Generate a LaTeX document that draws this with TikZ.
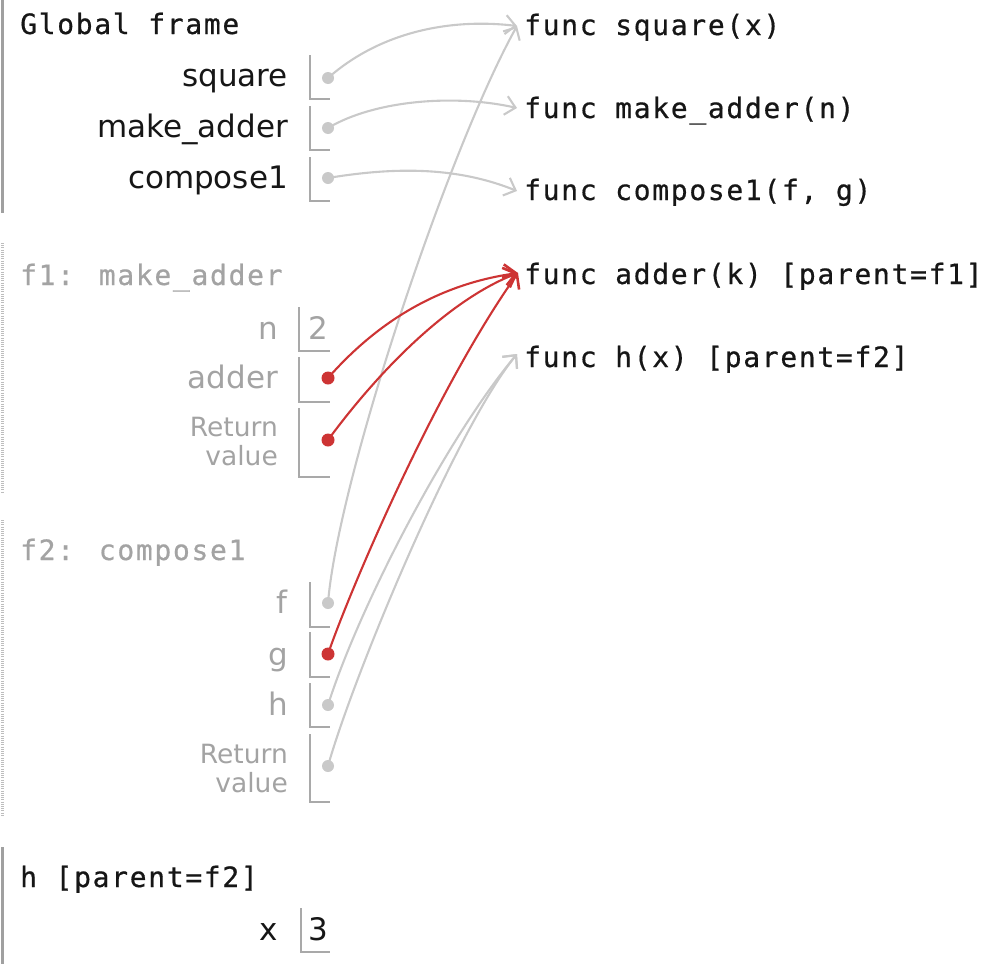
\documentclass[tikz,border=0pt]{standalone}
\usepackage{fontspec}
\setmainfont{DejaVu Sans}
\newfontfamily\monofnt[LetterSpace=6,FakeBold=0.6]{DejaVu Sans Mono}
\usetikzlibrary{arrows.meta}

\definecolor{ink}{HTML}{161616}
\definecolor{dim}{HTML}{A3A3A3}
\definecolor{rulegray}{HTML}{A9A9A9}
\definecolor{wire}{HTML}{C9C9C9}
\definecolor{hot}{HTML}{CD3434}
\definecolor{barcol}{HTML}{A0A0A0}

\tikzset{
  hdr/.style={anchor=base west, inner sep=0pt, font=\monofnt\fontsize{28}{32}\selectfont},
  var/.style={anchor=base east, inner sep=0pt, font=\fontsize{31}{36}\selectfont},
  retlbl/.style={anchor=base east, inner sep=0pt, font=\fontsize{26.5}{30}\selectfont},
  val/.style={anchor=base west, inner sep=0pt, font=\fontsize{31}{36}\selectfont},
  slotline/.style={draw=rulegray, line width=1.6pt},
  ptrdot/.style={circle, fill=wire, inner sep=0pt, minimum size=12pt},
  hotdot/.style={circle, fill=hot, inner sep=0pt, minimum size=13pt},
  ptr/.style={draw=wire, line width=2.1pt, -{Straight Barb[length=10pt,width=19pt,line width=2.1pt]}},
  hotptr/.style={draw=hot, line width=2.1pt, -{Straight Barb[length=11pt,width=21pt,line width=2.6pt]}},
  solidbar/.style={draw=barcol, line width=3pt},
  dotbar/.style={draw=barcol!70, line width=3pt, dash pattern=on 1pt off 1.2pt},
}

\begin{document}
\begin{tikzpicture}[x=1pt,y=-1pt]
\useasboundingbox (0,0) rectangle (1004,964);

% ---------- frame side bars ----------
\draw[solidbar] (2.5,0) -- (2.5,213);
\draw[dotbar]   (2.5,243) -- (2.5,492);
\draw[dotbar]   (2.5,520) -- (2.5,815);
\draw[solidbar] (2.5,847) -- (2.5,964);

% ---------- function objects ----------
\node[hdr, text=ink] (fsq)  at (524,35)  {func square(x)};
\node[hdr, text=ink] (fmk)  at (524,118) {func make\_adder(n)};
\node[hdr, text=ink] (fcmp) at (524,200) {func compose1(f, g)};
\node[hdr, text=ink] (fadd) at (524,284) {func adder(k) [parent=f1]};
\node[hdr, text=ink] (fh)   at (524,367) {func h(x) [parent=f2]};

\coordinate (tsq)  at (517,26);
\coordinate (tmk)  at (517,108);
\coordinate (tcmp) at (517,191);
\coordinate (tadd) at (518,273);
\coordinate (th)   at (517,354);

% ---------- global frame ----------
\node[hdr, text=ink] (gtitle) at (20,34) {Global frame};
\node[var, text=ink] (lsq)  at (288,86)  {square};
\node[var, text=ink] (lmk)  at (288,137) {make\_adder};
\node[var, text=ink] (lcmp) at (288,188) {compose1};
\draw[slotline] (310,55)  |- (330,99);
\draw[slotline] (310,106) |- (330,150);
\draw[slotline] (310,157) |- (330,201);
\node[ptrdot] (dsq)  at (328,78)  {};
\node[ptrdot] (dmk)  at (328,128) {};
\node[ptrdot] (dcmp) at (328,178) {};

% ---------- f1: make_adder ----------
\node[hdr, text=dim] (f1title) at (20,285) {f1: make\_adder};
\node[var, text=dim] (ln)   at (278,339) {n};
\node[val, text=dim] (vn)   at (308,339) {2};
\node[var, text=dim] (ladd) at (278,388) {adder};
\node[retlbl, text=dim] (lret1a) at (278,436) {Return};
\node[retlbl, text=dim] (lret1b) at (278,465) {value};
\draw[slotline] (299,307) |- (330,351);
\draw[slotline] (299,357) |- (330,402);
\draw[slotline] (299,408) |- (330,477);

% ---------- f2: compose1 ----------
\node[hdr, text=dim] (f2title) at (20,560) {f2: compose1};
\node[var, text=dim] (lf) at (288,613) {f};
\node[var, text=dim] (lg) at (288,665) {g};
\node[var, text=dim] (lh) at (288,715) {h};
\node[retlbl, text=dim] (lret2a) at (288,763) {Return};
\node[retlbl, text=dim] (lret2b) at (288,792) {value};
\draw[slotline] (310,582) |- (330,627);
\draw[slotline] (310,632) |- (330,677);
\draw[slotline] (310,683) |- (330,727);
\draw[slotline] (310,734) |- (330,802);
\node[ptrdot] (df)   at (328,603) {};
\node[ptrdot] (dh)   at (328,705) {};
\node[ptrdot] (dret2) at (328,766) {};

% ---------- h [parent=f2] ----------
\node[hdr, text=ink] (htitle) at (20,887) {h [parent=f2]};
\node[var, text=ink] (lx) at (278,940) {x};
\node[val, text=ink] (vx) at (308,940) {3};
\draw[slotline] (301,908) |- (330,952);

% ---------- grey pointers ----------
\draw[ptr] (dsq.center)  .. controls (380,32) and (450,18) .. (tsq);
\draw[ptr] (dmk.center)  .. controls (375,100) and (455,94) .. (tmk);
\draw[ptr] (dcmp.center) .. controls (400,166) and (460,168) .. (tcmp);
\draw[ptr] (df.center)   .. controls (338,480) and (448,150) .. (tsq);
\draw[ptr] (dh.center)   .. controls (358,610) and (445,440) .. (th);
\draw[ptr] (dret2.center) .. controls (352,680) and (455,430) .. (th);

% ---------- red pointers to adder ----------
\node[hotdot] (dadd) at (328,378) {};
\node[hotdot] (dret1) at (328,440) {};
\node[hotdot] (dg) at (328,654) {};
\draw[hotptr] (dadd.center)  .. controls (372,328) and (432,285) .. (tadd);
\draw[hotptr] (dret1.center) .. controls (378,372) and (448,300) .. (tadd);
\draw[hotptr] (dg.center)    .. controls (350,590) and (435,390) .. (tadd);
\end{tikzpicture}
\end{document}
